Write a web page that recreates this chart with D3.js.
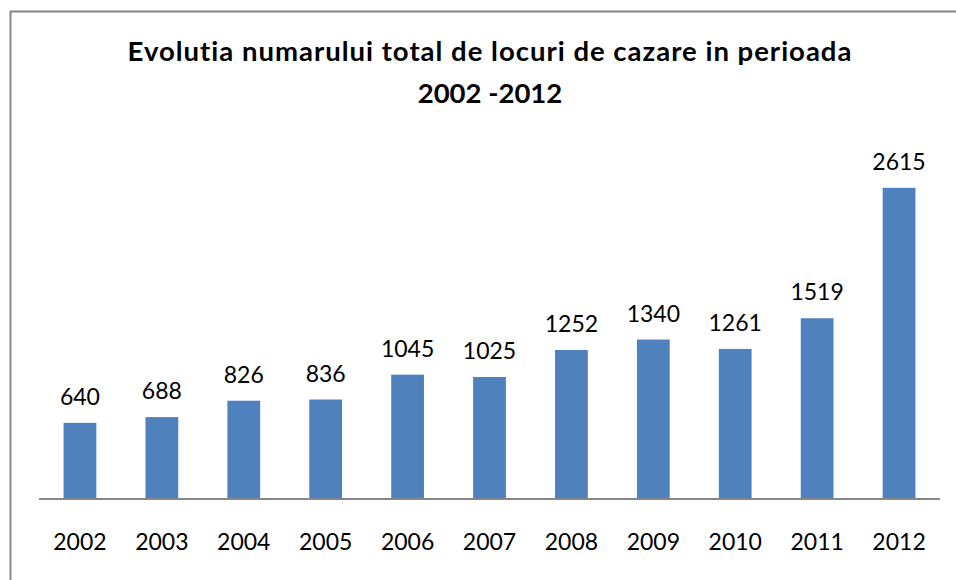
<!DOCTYPE html>
<html>
<head>
<meta charset="utf-8">
<script src="https://cdn.jsdelivr.net/npm/d3@7/dist/d3.min.js"></script>
<style>
  html,body{margin:0;padding:0;background:#fff;}
  svg{display:block;}
  text{font-variant-ligatures:none;}
</style>
</head>
<body>
<svg id="chart" width="956" height="580"></svg>
<script>
/* data */
var years=['2002','2003','2004','2005','2006','2007','2008','2009','2010','2011','2012'];
var places=[640,688,826,836,1045,1025,1252,1340,1261,1519,2615];
var titleLines=['Evolutia numarului total de locuri de cazare in perioada','2002 -2012'];

var W=956, H=580;
var ML=39, MR=16, MT=142, BASE=499;
var FONT='Lato, "Open Sans", sans-serif';

var svg=d3.select('#chart');

/* outer chart border (cut by the window on right/bottom) */
svg.append('rect').attr('x',10.5).attr('y',11.5).attr('width',W).attr('height',H)
  .attr('fill','#fff').attr('stroke','#878787').attr('stroke-width',2);

/* title */
var tt=svg.append('text').attr('text-anchor','middle').attr('font-family',FONT)
  .attr('font-weight','bold').attr('font-size','27.5px').attr('fill','#000');
tt.append('tspan').attr('x',490).attr('y',61).attr('letter-spacing','1px').text(titleLines[0]);
tt.append('tspan').attr('x',490).attr('y',103).text(titleLines[1]);

var x=d3.scaleBand().domain(years).range([ML,W-MR]).paddingInner(0.6).paddingOuter(0.3);
var y=d3.scaleLinear().domain([0,3000]).range([BASE,MT]);

var g=svg.append('g');

/* bars */
g.selectAll('rect.bar').data(places).enter().append('rect').attr('class','bar')
  .attr('x',function(d,i){return x(years[i]);})
  .attr('y',function(d){return y(d);})
  .attr('width',x.bandwidth())
  .attr('height',function(d){return BASE-y(d);})
  .attr('fill','#4F81BD');

/* value labels */
g.selectAll('text.val').data(places).enter().append('text').attr('class','val')
  .attr('x',function(d,i){return x(years[i])+x.bandwidth()/2;})
  .attr('y',function(d){return y(d)-18;})
  .attr('text-anchor','middle').attr('font-family',FONT).attr('font-size','23px')
  .attr('fill','#000').text(function(d){return d;});

/* category axis */
var ax=svg.append('g').attr('transform','translate(0,'+BASE+')')
  .call(d3.axisBottom(x).tickSize(0).tickPadding(0));
ax.select('.domain').attr('stroke','#878787').attr('stroke-width',2)
  .attr('d','M'+ML+',0H'+(W-MR));
ax.selectAll('text').attr('font-family',FONT).attr('font-size','23px')
  .attr('fill','#000').attr('dy',null).attr('y',51);
</script>
</body>
</html>
